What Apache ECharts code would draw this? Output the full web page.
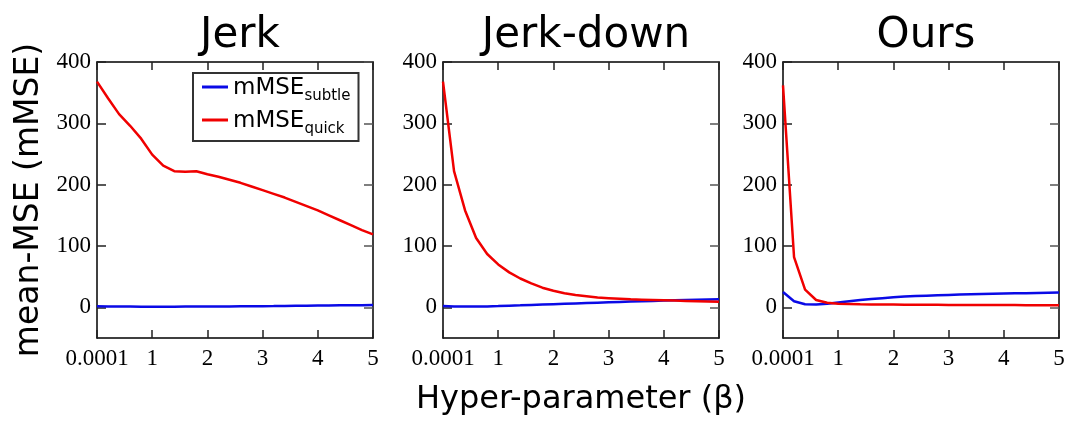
<!DOCTYPE html>
<html><head><meta charset="utf-8">
<script src="https://cdn.jsdelivr.net/npm/echarts@6/dist/echarts.min.js"></script>
<style>html,body{margin:0;padding:0;background:#fff}#c{width:1071px;height:422px}</style>
</head><body><div id="c"></div>
<script>
const betas = [0.0001,0.2,0.4,0.6,0.8,1.0,1.2,1.4,1.6,1.8,2.0,2.2,2.4,2.6,2.8,3.0,3.2,3.4,3.6,3.8,4.0,4.2,4.4,4.6,4.8,5.0];
const panelTitles = ['Jerk','Jerk-down','Ours'];
const xTickLabels = ['0.0001','1','2','3','4','5'];
const yTickValues = [0,100,200,300,400];
const seriesNames = ['mMSE_subtle','mMSE_quick'];

const jerkSubtle = [1.8,1.5,1.3,1.2,1.1,1.1,1.1,1.1,1.2,1.2,1.3,1.4,1.5,1.6,1.7,1.9,2.0,2.2,2.4,2.6,2.8,3.0,3.2,3.4,3.6,3.8];
const jerkQuick  = [368,341,315,296,275,249,231,222,221,222,217,213,208,203,197,191,185,179,172,165,158,150,142,134,126,119];
const downSubtle = [2.0,1.5,1.2,1.2,1.5,2.0,2.7,3.3,4.0,4.6,5.2,5.8,6.4,7.0,7.6,8.2,8.8,9.4,10.0,10.5,11.0,11.5,12.0,12.4,12.8,13.2];
const downQuick  = [368,222,158,113,87,70,57,47,39,32,27,23,20,18,16,15,14,13,12.5,12,11.5,11,10.5,10,9.5,9];
const oursSubtle = [25,10,5,4.5,6,8,10,12,13.5,15,16.5,17.5,18.3,19,19.7,20.3,20.8,21.3,21.7,22.1,22.5,22.8,23.1,23.4,23.7,24];
const oursQuick  = [362,82,29,12,7.5,6,5.5,5,4.8,4.6,4.5,4.4,4.3,4.2,4.1,4.0,3.9,3.9,3.8,3.8,3.7,3.7,3.6,3.6,3.5,3.5];

const panelData = [[jerkSubtle,jerkQuick],[downSubtle,downQuick],[oursSubtle,oursQuick]];
const colors = ['#0a0ae6','#f00000'];

const lefts = [97,443,783];
const W = 276;
const serif = 'Liberation Serif';
const sans = 'DejaVu Sans';

const grids = [], xAxes = [], yAxes = [], series = [], titles = [];
lefts.forEach((L,i)=>{
  grids.push({left:L, top:62, width:W, height:276, containLabel:false, outerBoundsMode:'none'});
  titles.push({text:panelTitles[i], left:L+W/2, top:10, textAlign:'center',
    textStyle:{fontFamily:sans, fontSize:42, fontWeight:'normal', color:'#000'}});
  const tick = {show:true, inside:true, length:8, lineStyle:{color:'#222', width:1.5}};
  xAxes.push({type:'value', gridIndex:i, min:0, max:5, interval:1, position:'bottom',
    axisLine:{show:true, onZero:false, lineStyle:{color:'#000', width:1.5}}, splitLine:{show:false},
    axisTick:tick,
    axisLabel:{margin:9, fontFamily:serif, fontSize:23, color:'#000',
      formatter:v=>xTickLabels[Math.round(v)]},
    name: i===1 ? 'Hyper-parameter (β)' : '', nameLocation:'middle', nameGap:46,
    nameTextStyle:{fontFamily:sans, fontSize:32, color:'#000'}});
  xAxes.push({type:'value', gridIndex:i, min:0, max:5, interval:1, position:'top',
    axisLine:{show:true, onZero:false, lineStyle:{color:'#000', width:1.5}}, splitLine:{show:false},
    axisTick:tick,
    axisLabel:{show:false}});
  yAxes.push({type:'value', gridIndex:i, min:-50, max:400, position:'left',
    axisLine:{show:true, onZero:false, lineStyle:{color:'#000', width:1.5}}, splitLine:{show:false},
    axisTick:{show:true, inside:true, length:9, customValues:yTickValues, lineStyle:{color:'#222', width:1.5}},
    axisLabel:{margin:6, fontFamily:serif, fontSize:23, color:'#000', customValues:yTickValues},
    name: i===0 ? 'mean-MSE (mMSE)' : '', nameLocation:'middle', nameGap:51,
    nameTextStyle:{fontFamily:sans, fontSize:33, color:'#000'}});
  yAxes.push({type:'value', gridIndex:i, min:-50, max:400, position:'right',
    axisLine:{show:true, onZero:false, lineStyle:{color:'#000', width:1.5}}, splitLine:{show:false},
    axisTick:{show:true, inside:true, length:9, customValues:yTickValues, lineStyle:{color:'#555', width:1.5}},
    axisLabel:{show:false}});
  panelData[i].forEach((vals,k)=>{
    series.push({type:'line', name:seriesNames[k], xAxisIndex:2*i, yAxisIndex:2*i,
      data: betas.map((b,j)=>[b, vals[j]]), showSymbol:false, symbol:'none', smooth:false,
      lineStyle:{color:colors[k], width:2.5}, itemStyle:{color:colors[k]}, z: k===1?3:2});
  });
});

const chart = echarts.init(document.getElementById('c'), null, {renderer:'canvas'});
chart.setOption({
  animation:false,
  backgroundColor:'#fff',
  title: titles,
  grid: grids, xAxis: xAxes, yAxis: yAxes, series: series,
  legend:{
    data: seriesNames, orient:'vertical', left:193, top:73,
    borderColor:'#333', borderWidth:2, padding:[4,8,4,9], itemGap:6,
    icon:'rect', itemWidth:26, itemHeight:3,
    formatter: n => {
      const parts = n.split('_');
      return '{m|' + parts[0] + '}{s|' + parts[1] + '}';
    },
    textStyle:{
      color:'#000',
      rich:{
        m:{fontFamily:sans, fontSize:23, color:'#000', lineHeight:26, verticalAlign:'bottom'},
        s:{fontFamily:sans, fontSize:15, color:'#000', lineHeight:26, verticalAlign:'bottom', padding:[0,0,-4,0]}
      }
    }
  }
});
</script></body></html>
